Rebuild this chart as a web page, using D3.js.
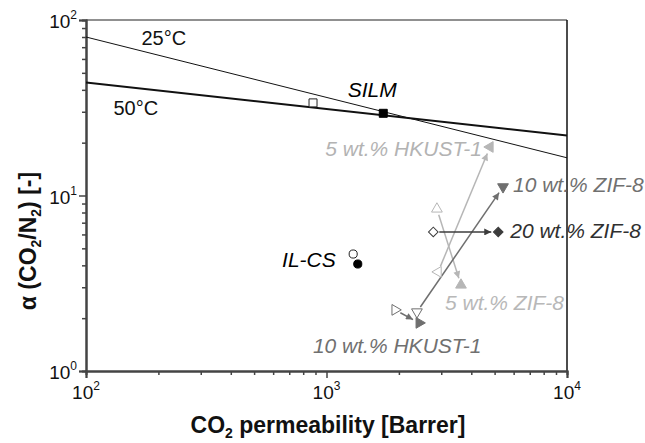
<!DOCTYPE html>
<html><head><meta charset="utf-8">
<script src="https://cdn.jsdelivr.net/npm/d3@7"></script>
<style>
body{margin:0;background:#fff}
svg{display:block}
text{font-family:"Liberation Sans",Arial,Helvetica,sans-serif}
</style>
</head><body>
<svg id="c" width="645" height="443"></svg>
<script>
// ---------------- data ----------------
const xTickValues = [100, 1000, 10000];
const yTickValues = [1, 10, 100];
const tickBase = "10";

const boundLabels = ["25°C", "50°C"];
const boundX = [100, 10000];
const bound25 = [80, 16.4];
const bound50 = [44, 22];
const boundLabelX = [170, 130];

const materials = ["SILM", "IL-CS", "5 wt.% HKUST-1", "10 wt.% HKUST-1", "5 wt.% ZIF-8", "10 wt.% ZIF-8", "20 wt.% ZIF-8"];
const perm25 = [879, 1291, 2911, 1928, 2878, 2377, 2780];   // open symbols (25 °C)
const sel25  = [33.7, 4.64, 3.67, 2.23, 8.38, 2.17, 6.2];
const perm50 = [1722, 1349, 4786, 2428, 3624, 5420, 5178];  // filled symbols (50 °C)
const sel50  = [29.4, 4.07, 18.9, 1.88, 3.09, 11.2, 6.2];

const xTitle = ["CO", "2", " permeability [Barrer]"];
const yTitle = ["α (CO", "2", "/N", "2", ") [-]"];

// ---------------- styles ----------------
const symbolKind = ["square", "circle", "left", "right", "up", "down", "diamond"];
const markColor  = ["#000", "#000", "#b6b6b6", "#6f6f6f", "#b6b6b6", "#6f6f6f", "#3c3c3c"];
const labelColor = ["#000", "#000", "#b3b3b3", "#707070", "#b8b8b8", "#707070", "#303030"];
const hasArrow   = [false, false, true, true, true, true, true];
const labelPos = [
  {a: "middle", dx: -11, dy: -16},
  {a: "end", dx: -22, dy: 3},
  {a: "end", dx: -8, dy: 9},
  {a: "middle", dx: -22, dy: 30},
  {a: "start", dx: -16, dy: 25},
  {a: "start", dx: 10, dy: 5},
  {a: "start", dx: 12, dy: 6}
];

const svg = d3.select("#c");
const L = 86, R = 567, T = 20, B = 371;
const x = d3.scaleLog().domain([100, 10000]).range([L, R]);
const y = d3.scaleLog().domain([1, 100]).range([B, T]);
const axisColor = "#444";

// frame top/right
svg.append("line").attr("x1", L).attr("x2", R).attr("y1", T).attr("y2", T).attr("stroke", "#222").attr("stroke-width", 1.2);
svg.append("line").attr("x1", R).attr("x2", R).attr("y1", T).attr("y2", B).attr("stroke", "#111").attr("stroke-width", 1.5);

// axes
const minorTicks = (dom) => {
  const out = [];
  for (let e = Math.log10(dom[0]); e < Math.log10(dom[1]); e++)
    for (let m = 2; m <= 9; m++) out.push(m * Math.pow(10, e));
  return out;
};
const xAxisMinor = d3.axisBottom(x).tickValues(minorTicks(x.domain())).tickSize(4).tickFormat("");
const xAxisMajor = d3.axisBottom(x).tickValues(xTickValues).tickSize(7).tickFormat("");
const yAxisMinor = d3.axisLeft(y).tickValues(minorTicks(y.domain())).tickSize(4).tickFormat("");
const yAxisMajor = d3.axisLeft(y).tickValues(yTickValues).tickSize(7).tickFormat("");

function styleAxis(g) {
  g.selectAll(".domain").attr("stroke", axisColor).attr("stroke-width", 2);
  g.selectAll(".tick line").attr("stroke", axisColor).attr("stroke-width", 1.5);
}
svg.append("g").attr("transform", `translate(0,${B})`).call(xAxisMinor).call(styleAxis);
svg.append("g").attr("transform", `translate(0,${B})`).call(xAxisMajor).call(styleAxis);
svg.append("g").attr("transform", `translate(${L},0)`).call(yAxisMinor).call(styleAxis);
svg.append("g").attr("transform", `translate(${L},0)`).call(yAxisMajor).call(styleAxis);

// tick labels
xTickValues.forEach(v => {
  const t = svg.append("text").attr("x", x(v)).attr("y", 399).attr("text-anchor", "middle")
    .attr("font-size", 19).attr("fill", "#111");
  t.append("tspan").text(tickBase);
  t.append("tspan").attr("font-size", 12).attr("dy", -9).text(Math.round(Math.log10(v)));
});
yTickValues.forEach(v => {
  const t = svg.append("text").attr("x", 77).attr("y", y(v) + 8).attr("text-anchor", "end")
    .attr("font-size", 19).attr("fill", "#111");
  t.append("tspan").text(tickBase);
  t.append("tspan").attr("font-size", 12).attr("dy", -9).text(Math.round(Math.log10(v)));
});

// axis titles
const xt = svg.append("text").attr("x", 328).attr("y", 433).attr("text-anchor", "middle")
  .attr("font-size", 23).attr("font-weight", "bold").attr("fill", "#111");
xt.append("tspan").text(xTitle[0]);
xt.append("tspan").attr("font-size", 14).attr("dy", 5).text(xTitle[1]);
xt.append("tspan").attr("dy", -5).text(xTitle[2]);

const yt = svg.append("text").attr("transform", "translate(36,241) rotate(-90)").attr("text-anchor", "middle")
  .attr("font-size", 23).attr("font-weight", "bold").attr("fill", "#111");
yt.append("tspan").text(yTitle[0]);
yt.append("tspan").attr("font-size", 14).attr("dy", 5).text(yTitle[1]);
yt.append("tspan").attr("dy", -5).text(yTitle[2]);
yt.append("tspan").attr("font-size", 14).attr("dy", 5).text(yTitle[3]);
yt.append("tspan").attr("dy", -5).text(yTitle[4]);

// bound lines
const lineGen = d3.line().x(d => x(d[0])).y(d => y(d[1]));
svg.append("clipPath").attr("id", "pc").append("rect").attr("x", L).attr("y", T).attr("width", R - L).attr("height", B - T);
svg.append("path").attr("clip-path", "url(#pc)").datum(boundX.map((v, i) => [v, bound25[i]]))
  .attr("d", lineGen).attr("fill", "none").attr("stroke", "#111").attr("stroke-width", 1);
svg.append("path").attr("clip-path", "url(#pc)").datum(boundX.map((v, i) => [v, bound50[i]]))
  .attr("d", lineGen).attr("fill", "none").attr("stroke", "#111").attr("stroke-width", 2);

function boundAt(arr, xv) {
  const t = (Math.log10(xv) - Math.log10(boundX[0])) / (Math.log10(boundX[1]) - Math.log10(boundX[0]));
  return Math.pow(10, Math.log10(arr[0]) + t * (Math.log10(arr[1]) - Math.log10(arr[0])));
}
svg.append("text").attr("x", x(boundLabelX[0])).attr("y", y(boundAt(bound25, boundLabelX[0])) - 6)
  .attr("font-size", 20).attr("fill", "#111").text(boundLabels[0]);
svg.append("text").attr("x", x(boundLabelX[1])).attr("y", y(boundAt(bound50, boundLabelX[1])) + 29)
  .attr("font-size", 20).attr("fill", "#111").text(boundLabels[1]);

// arrow markers
const defs = svg.append("defs");
markColor.forEach((c, i) => {
  defs.append("marker").attr("id", "ah" + i).attr("viewBox", "0 0 10 10").attr("refX", 10).attr("refY", 5)
    .attr("markerWidth", 9).attr("markerHeight", 7).attr("markerUnits", "userSpaceOnUse").attr("orient", "auto")
    .append("path").attr("d", "M0,0 L10,5 L0,10 Z").attr("fill", c);
});

materials.forEach((m, i) => {
  if (!hasArrow[i]) return;
  const x0 = x(perm25[i]), y0 = y(sel25[i]), x1 = x(perm50[i]), y1 = y(sel50[i]);
  const len = Math.hypot(x1 - x0, y1 - y0), ux = (x1 - x0) / len, uy = (y1 - y0) / len;
  svg.append("line").attr("x1", x0 + ux * 6).attr("y1", y0 + uy * 6)
    .attr("x2", x1 - ux * 7).attr("y2", y1 - uy * 7)
    .attr("stroke", markColor[i]).attr("stroke-width", 1.5).attr("marker-end", `url(#ah${i})`);
});

// symbols
function symPath(kind) {
  switch (kind) {
    case "square": return {p: d3.symbol(d3.symbolSquare, 64)(), r: 0};
    case "circle": return {p: d3.symbol(d3.symbolCircle, 52)(), r: 0};
    case "diamond": return {p: d3.symbol(d3.symbolSquare, 46)(), r: 45};
    case "up": return {p: d3.symbol(d3.symbolTriangle, 50)(), r: 0};
    case "down": return {p: d3.symbol(d3.symbolTriangle, 50)(), r: 180};
    case "left": return {p: d3.symbol(d3.symbolTriangle, 50)(), r: -90};
    case "right": return {p: d3.symbol(d3.symbolTriangle, 50)(), r: 90};
  }
}
materials.forEach((m, i) => {
  const s = symPath(symbolKind[i]);
  svg.append("path").attr("d", s.p)
    .attr("transform", `translate(${x(perm25[i])},${y(sel25[i])}) rotate(${s.r})`)
    .attr("fill", "#fff").attr("stroke", i < 2 ? "#222" : markColor[i]).attr("stroke-width", 1);
  svg.append("path").attr("d", s.p)
    .attr("transform", `translate(${x(perm50[i])},${y(sel50[i])}) rotate(${s.r})`)
    .attr("fill", markColor[i]).attr("stroke", markColor[i]).attr("stroke-width", 1);
});

// labels
materials.forEach((m, i) => {
  const lp = labelPos[i];
  svg.append("text").attr("x", x(perm50[i]) + lp.dx).attr("y", y(sel50[i]) + lp.dy)
    .attr("text-anchor", lp.a).attr("font-size", 21).attr("font-style", "italic")
    .attr("fill", labelColor[i]).text(m);
});
</script>
</body></html>
